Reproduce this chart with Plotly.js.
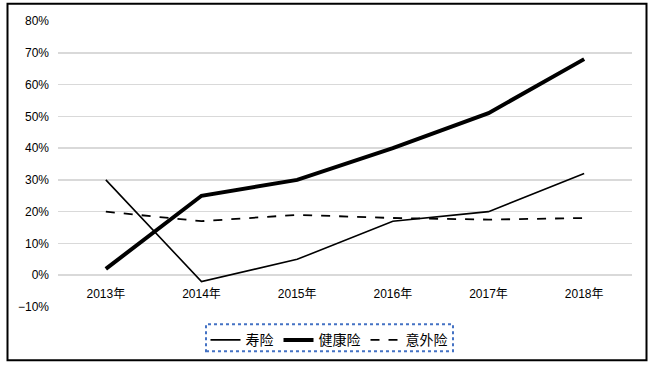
<!DOCTYPE html>
<html><head><meta charset="utf-8">
<script src="https://cdn.plot.ly/plotly-3.0.1.min.js"></script>
<style>html,body{margin:0;padding:0;background:#fff}#c{width:654px;height:368px}</style>
</head><body><div id="c"></div>
<script>
const years = ['2013年','2014年','2015年','2016年','2017年','2018年'];
const life = [0.30, -0.02, 0.05, 0.17, 0.20, 0.32];
const health = [0.02, 0.25, 0.30, 0.40, 0.51, 0.68];
const accident = [0.20, 0.17, 0.19, 0.18, 0.175, 0.18];
const seriesNames = ['寿险','健康险','意外险'];

const ml = 58, mr = 22, mt = 20.7, mb = 61.3;
const W = 654, H = 368, pw = W - ml - mr, ph = H - mt - mb;
const px = x => (x - ml) / pw;
const py = y => (H - mb - y) / ph;

const traces = [
  {x: years, y: life, name: seriesNames[0], mode: 'lines', line: {color: '#000', width: 1.6}},
  {x: years, y: health, name: seriesNames[1], mode: 'lines', line: {color: '#000', width: 4}},
  {x: years, y: accident, name: seriesNames[2], mode: 'lines', line: {color: '#000', width: 1.8, dash: 'dash'}}
];
const font = {family: 'Liberation Sans, Noto Sans CJK SC, sans-serif', size: 12, color: '#000'};
const layout = {
  width: W, height: H,
  margin: {l: ml, r: mr, t: mt, b: mb},
  paper_bgcolor: '#fff', plot_bgcolor: '#fff',
  font: font,
  showlegend: true,
  legend: {orientation: 'h', x: px(329), xanchor: 'center', y: py(324), yanchor: 'top',
           font: {family: 'Noto Sans CJK SC, sans-serif', size: 14, color: '#000'},
           bgcolor: 'rgba(0,0,0,0)', itemwidth: 30, tracegroupgap: 0},
  xaxis: {type: 'category', range: [-0.5, 5.5], showgrid: false, zeroline: false,
          showline: false, ticks: '', anchor: 'free', position: 1/9, fixedrange: true,
          ticklabelstandoff: 10,
          tickfont: {family: 'Liberation Sans, Noto Sans CJK SC, sans-serif', size: 12}},
  yaxis: {range: [-0.1, 0.8], dtick: 0.1, tickformat: '.0%', showgrid: true,
          gridcolor: '#d9d9d9', gridwidth: 1.5, zeroline: false, showline: false,
          ticks: '', ticklabelstandoff: 8, fixedrange: true},
  shapes: [
    {type: 'rect', xref: 'paper', yref: 'paper', x0: px(7.5), x1: px(646.5), y0: py(360), y1: py(3.5),
     line: {color: '#000', width: 2}, layer: 'above'},
    {type: 'rect', xref: 'paper', yref: 'paper', x0: px(206), x1: px(453), y0: py(351), y1: py(324),
     line: {color: '#4472c4', width: 2, dash: 'dot'}, layer: 'above'}
  ]
};
Plotly.newPlot('c', traces, layout, {displayModeBar: false, staticPlot: true});
</script></body></html>
